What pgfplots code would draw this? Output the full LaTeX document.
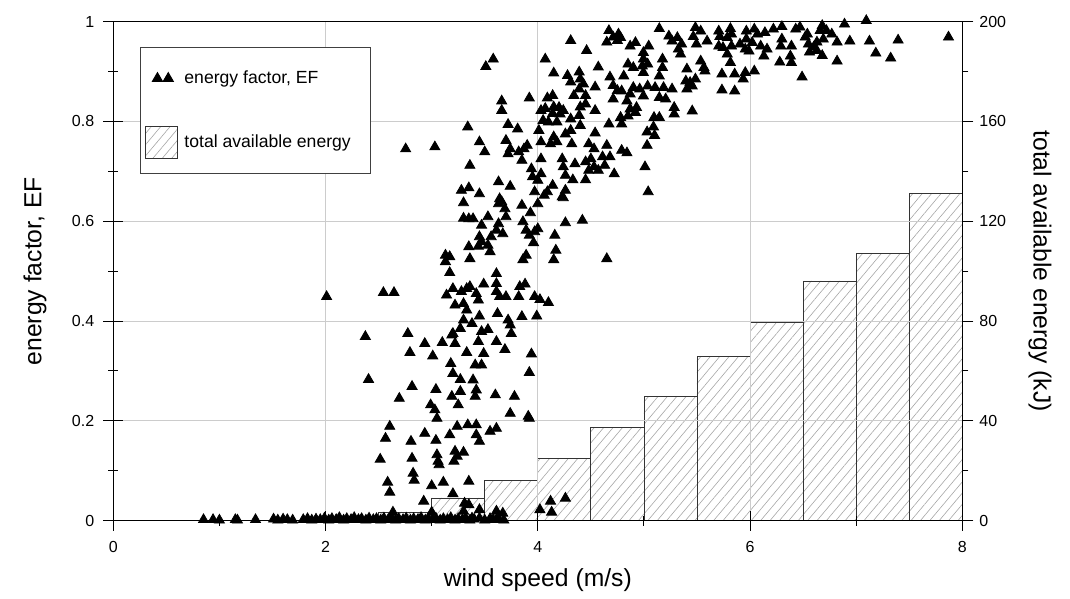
\documentclass[border=0pt]{standalone}
\usepackage{fontspec}
\setmainfont{Liberation Sans}
\setsansfont{Liberation Sans}
\usepackage{pgfplots}
\usepackage{pgfplotstable}
\pgfplotsset{compat=1.18}
\usetikzlibrary{patterns.meta}

\pgfplotsset{
  trilegend/.style={legend image code/.code={\draw[##1] plot coordinates {(6pt,0pt) (11.4pt,0pt)};}},
  boxlegend/.style={legend image code/.code={\draw[##1, overlay] (0pt,-8pt) rectangle (16pt,8pt); \path[draw=none] (0pt,0pt) -- (16pt,0pt);}},
}

\pgfplotstableread{
x e
2.5 3.5
3.0 9.1
3.5 16.0
4.0 25.0
4.5 37.3
5.0 49.7
5.5 66.0
6.0 79.5
6.5 96.1
7.0 107.2
7.5 131.2
8.0 131.2
}\energydata

\pgfplotstableread{
x y
0.85 0.002
0.94 0.002
1.00 0.001
1.15 0.002
1.17 0.001
1.34 0.002
1.51 0.003
1.55 0.001
1.60 0.003
1.64 0.002
1.69 0.001
1.79 0.002
1.83 0.004
1.87 0.001
1.91 0.003
1.95 0.002
1.99 0.005
2.03 0.001
2.06 0.004
2.10 0.002
2.13 0.006
2.17 0.001
2.20 0.004
2.24 0.002
2.27 0.006
2.31 0.002
2.34 0.004
2.38 0.001
2.41 0.005
2.45 0.002
2.48 0.004
2.52 0.001
2.55 0.005
2.59 0.002
2.62 0.006
2.66 0.001
2.69 0.004
2.73 0.002
2.76 0.005
2.80 0.001
2.83 0.004
2.87 0.002
2.90 0.006
2.94 0.001
2.97 0.004
3.01 0.002
3.04 0.005
3.08 0.001
3.11 0.004
3.15 0.002
3.18 0.006
3.22 0.001
3.25 0.004
3.29 0.002
3.32 0.005
3.36 0.001
3.40 0.003
3.50 0.001
3.55 0.004
3.58 0.002
3.63 0.004
3.68 0.001
3.58 0.925
3.51 0.910
4.07 0.925
4.15 0.897
3.66 0.841
3.66 0.822
3.92 0.847
4.09 0.847
4.14 0.852
4.07 0.826
4.14 0.816
4.20 0.828
3.34 0.789
3.72 0.794
3.81 0.785
4.01 0.782
3.45 0.759
3.50 0.739
3.70 0.762
3.74 0.745
3.72 0.735
3.82 0.739
3.87 0.745
3.90 0.752
3.85 0.722
4.03 0.759
4.03 0.725
2.755 0.745
3.03 0.749
3.36 0.712
3.94 0.705
4.00 0.682
3.63 0.679
3.74 0.670
3.95 0.689
4.14 0.672
3.28 0.662
3.35 0.667
3.45 0.655
3.64 0.645
3.66 0.639
3.63 0.635
3.69 0.625
3.97 0.659
4.06 0.652
4.09 0.659
3.30 0.637
3.70 0.609
3.85 0.632
3.93 0.617
4.00 0.635
3.30 0.606
3.35 0.605
3.39 0.605
3.53 0.609
3.86 0.599
3.47 0.592
3.63 0.595
3.61 0.582
3.67 0.575
3.89 0.582
3.92 0.572
3.97 0.579
4.00 0.585
3.96 0.557
4.16 0.572
3.56 0.569
3.45 0.569
3.47 0.559
3.44 0.550
3.53 0.552
3.55 0.539
3.35 0.549
3.36 0.525
4.17 0.542
4.15 0.523
3.89 0.532
3.86 0.523
4.65 0.525
3.13 0.532
3.17 0.529
3.13 0.519
3.17 0.497
4.26 0.597
4.42 0.602
4.24 0.647
4.26 0.662
3.97 0.449
4.02 0.443
4.10 0.437
3.99 0.410
3.94 0.334
3.92 0.297
3.92 0.205
3.61 0.495
3.61 0.475
3.49 0.474
3.61 0.459
3.64 0.449
3.70 0.449
3.83 0.469
3.88 0.474
3.82 0.449
3.20 0.465
3.14 0.452
3.28 0.459
3.36 0.469
3.42 0.455
3.44 0.442
3.22 0.432
3.30 0.435
3.33 0.422
3.33 0.465
3.30 0.402
3.27 0.385
3.20 0.375
3.62 0.415
3.72 0.402
3.74 0.392
3.75 0.375
3.85 0.409
3.53 0.383
3.45 0.410
3.38 0.395
2.01 0.449
2.545 0.457
2.645 0.457
2.375 0.369
2.775 0.375
2.405 0.283
3.19 0.372
3.22 0.355
3.10 0.357
2.935 0.355
2.795 0.337
3.01 0.330
3.33 0.337
3.47 0.379
3.61 0.359
3.44 0.359
3.49 0.335
3.69 0.343
3.18 0.315
3.20 0.295
3.27 0.283
3.41 0.312
3.47 0.312
3.39 0.282
3.42 0.262
3.60 0.252
3.78 0.249
2.815 0.269
2.695 0.245
3.04 0.263
3.19 0.249
3.25 0.232
3.27 0.259
3.41 0.249
2.99 0.232
3.03 0.222
3.05 0.205
3.74 0.215
3.91 0.209
2.605 0.189
2.565 0.165
2.805 0.159
2.935 0.175
3.04 0.161
3.17 0.172
3.24 0.189
3.34 0.192
3.42 0.192
3.55 0.179
3.61 0.185
3.42 0.172
3.45 0.159
2.515 0.123
2.815 0.125
3.05 0.132
3.06 0.119
3.07 0.112
3.22 0.139
3.24 0.129
3.21 0.119
3.30 0.137
2.825 0.095
2.835 0.081
2.585 0.077
2.605 0.057
3.00 0.070
3.11 0.077
3.35 0.079
2.925 0.039
3.20 0.054
3.31 0.035
3.30 0.019
3.35 0.032
3.45 0.022
2.635 0.017
3.00 0.017
3.61 0.019
3.67 0.015
4.02 0.022
4.12 0.039
4.13 0.017
4.26 0.045
3.38 0.005
3.45 0.005
3.61 0.002
4.31 0.962
4.46 0.942
4.67 0.982
4.65 0.959
4.71 0.969
4.76 0.975
4.75 0.962
4.57 0.909
4.28 0.892
4.31 0.879
4.39 0.899
4.40 0.885
4.43 0.875
4.39 0.865
4.34 0.852
4.45 0.852
4.54 0.869
4.68 0.889
4.71 0.872
4.75 0.862
4.71 0.845
4.21 0.815
4.24 0.822
4.31 0.805
4.39 0.812
4.45 0.835
4.54 0.822
4.10 0.799
4.18 0.799
4.31 0.782
4.40 0.792
4.67 0.795
4.54 0.777
4.26 0.775
4.32 0.755
4.48 0.755
4.53 0.745
4.65 0.752
4.68 0.729
4.35 0.715
4.45 0.719
4.50 0.725
4.23 0.725
4.12 0.755
4.18 0.759
4.24 0.709
4.53 0.709
4.57 0.702
4.63 0.712
4.61 0.729
4.48 0.702
4.45 0.683
4.33 0.683
4.26 0.692
4.23 0.649
4.03 0.695
4.72 0.695
4.79 0.742
4.84 0.737
5.03 0.779
5.10 0.772
5.09 0.789
5.03 0.752
5.01 0.709
5.04 0.659
4.79 0.795
4.15 0.769
4.03 0.822
4.15 0.829
4.05 0.802
4.40 0.829
5.145 0.986
5.485 0.988
5.535 0.981
5.465 0.970
5.705 0.981
5.815 0.986
5.825 0.975
5.715 0.970
5.785 0.968
5.965 0.981
6.04 0.985
6.07 0.975
6.14 0.978
6.22 0.985
6.30 0.990
6.43 0.985
4.78 0.968
4.87 0.951
4.92 0.958
5.045 0.951
4.995 0.938
4.995 0.925
5.235 0.971
5.265 0.961
5.315 0.968
5.355 0.955
5.325 0.945
5.345 0.935
5.495 0.955
5.595 0.961
5.705 0.951
5.745 0.948
5.785 0.935
5.825 0.951
5.905 0.955
5.955 0.945
5.965 0.965
6.02 0.958
5.99 0.941
6.10 0.951
6.16 0.945
6.13 0.931
6.29 0.951
6.30 0.965
6.39 0.951
6.38 0.931
6.39 0.918
6.28 0.919
5.815 0.918
5.535 0.921
5.565 0.908
5.575 0.901
5.175 0.925
5.175 0.908
5.145 0.891
4.85 0.915
4.90 0.908
4.985 0.911
5.035 0.915
4.995 0.898
4.81 0.891
5.405 0.905
5.395 0.881
5.435 0.878
5.485 0.885
5.455 0.871
5.735 0.895
5.855 0.895
5.955 0.898
5.935 0.885
6.04 0.901
5.735 0.863
5.855 0.861
4.79 0.861
4.90 0.868
4.96 0.865
5.035 0.871
5.105 0.868
5.185 0.868
5.265 0.865
5.405 0.865
4.84 0.841
4.87 0.855
4.995 0.851
5.145 0.848
5.205 0.845
4.87 0.825
4.93 0.828
4.92 0.818
5.285 0.828
5.285 0.815
5.455 0.821
4.78 0.808
4.85 0.811
5.095 0.808
5.145 0.808
6.47 0.989
6.54 0.975
6.52 0.969
6.68 0.992
6.72 0.982
6.66 0.982
6.69 0.965
6.63 0.959
6.77 0.975
6.82 0.959
6.89 0.995
7.095 1.002
6.94 0.961
7.125 0.961
7.395 0.963
7.87 0.969
6.55 0.955
6.60 0.949
6.63 0.942
6.56 0.939
6.68 0.932
7.185 0.937
7.325 0.927
6.82 0.921
6.49 0.889
}\efdata

\begin{document}
\begin{tikzpicture}
% background axis: bars and right-hand scale
\begin{axis}[
  scale only axis, width=424.5pt, height=249.5pt,
  xmin=0, xmax=8, ymin=0, ymax=200,
  axis x line=none, axis y line*=right,
  xtick=\empty,
  ytick={0,40,80,120,160,200}, minor y tick num=1,
  tick align=outside, major tick length=5.5pt, minor tick length=3pt,
  tick style={black, line width=0.5pt},
  axis line style={line width=0.6pt},
  /pgf/number format/assume math mode=true,
  yticklabel style={font=\fontsize{8}{9}\selectfont, xshift=-0.5pt},
  ylabel={total available energy (kJ)},
  every axis y label/.style={at={(axis description cs:1.0915,0.5)}, anchor=center, rotate=-90, font=\fontsize{12.35}{14}\selectfont},
]
\addplot[ybar interval, draw=black!80, line width=0.4pt,
  pattern={Lines[angle=50,distance=3.6pt,line width=0.3pt]}, pattern color=black!35]
  table[x=x, y=e] {\energydata};
\end{axis}
% front axis: energy factor scatter
\begin{axis}[
  name=front,
  scale only axis, width=424.5pt, height=249.5pt,
  xmin=0, xmax=8, ymin=0, ymax=1,
  clip=false,
  xtick={0,2,4,6,8}, minor x tick num=1,
  ytick={0,0.2,0.4,0.6,0.8,1}, minor y tick num=1,
  xtick pos=left, ytick pos=left,
  tick align=center, major tick length=10pt, minor tick length=5pt,
  tick style={black, line width=0.5pt},
  grid=major, grid style={black!20, line width=0.5pt},
  axis line style={line width=0.6pt},
  /pgf/number format/assume math mode=true,
  ticklabel style={font=\fontsize{8}{9}\selectfont},
  xticklabel style={yshift=-2pt},
  yticklabel style={xshift=-1pt},
  xlabel={wind speed (m/s)},
  ylabel={energy factor, EF},
  every axis x label/.style={at={(axis description cs:0.5,-0.1188)}, anchor=center, font=\fontsize{12.35}{14}\selectfont},
  every axis y label/.style={at={(axis description cs:-0.0922,0.5)}, anchor=center, rotate=90, font=\fontsize{12.35}{14}\selectfont},
  legend style={at={(axis description cs:0.0314,0.949)}, anchor=north west,
    draw=black!75, line width=0.5pt, fill=white,
    font=\fontsize{8.8}{10}\selectfont,
    inner xsep=2.5pt, inner ysep=9.5pt, row sep=20pt, column sep=1.5pt,
    nodes={inner sep=2pt}},
  legend cell align=left,
]
\addplot[only marks, mark=triangle*, mark size=2.9pt, black, trilegend]
  table[x=x, y=y] {\efdata};
\addlegendentry{energy factor, EF}
\addlegendimage{draw=black!80, line width=0.4pt,
  pattern={Lines[angle=50,distance=3.6pt,line width=0.3pt]}, pattern color=black!35, boxlegend}
\addlegendentry{total available energy\kern5.5pt}
\end{axis}
\path ([shift={(-56.65pt,-37.15pt)}]front.south west) rectangle ([shift={(53.85pt,10.85pt)}]front.north east);
\end{tikzpicture}
\end{document}
